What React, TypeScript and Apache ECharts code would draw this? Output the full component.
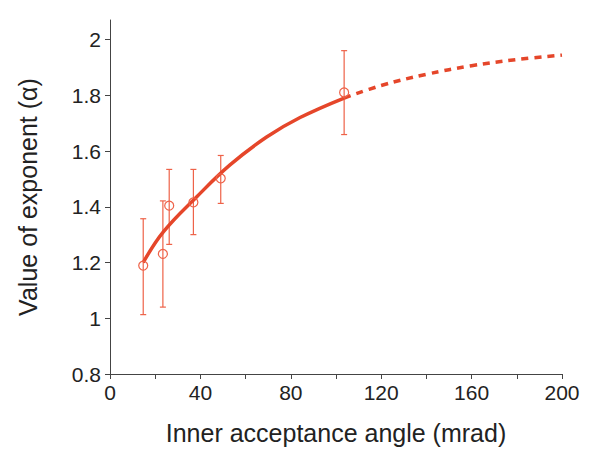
import React, { useEffect, useRef } from "react";
import * as echarts from "echarts";

const pointX = [14.7, 23.4, 26.2, 36.9, 49.0, 103.6];
const pointY = [1.189, 1.231, 1.404, 1.416, 1.502, 1.810];
const errLow = [1.013, 1.040, 1.265, 1.300, 1.412, 1.659];
const errHigh = [1.357, 1.421, 1.534, 1.534, 1.584, 1.960];

const solidX = [14.7, 23.6, 38.3, 53.1, 69.3, 84.1, 103.6];
const solidY = [1.2, 1.31, 1.435, 1.55, 1.65, 1.72, 1.79];
const dashX = [103.6, 120, 140, 160, 180, 200];
const dashY = [1.79, 1.835, 1.875, 1.906, 1.928, 1.944];

const xTicks = [0, 20, 40, 60, 80, 100, 120, 140, 160, 180, 200];
const xLabels = [0, 40, 80, 120, 160, 200];
const yTicks = [0.8, 1.0, 1.2, 1.4, 1.6, 1.8, 2.0];

const LINE = "#e5462a";
const ERR = "#ee6248";
const FONT = "Liberation Sans, Arial, sans-serif";

export default function App() {
  const ref = useRef<HTMLDivElement>(null);
  useEffect(() => {
    if (!ref.current) return;
    document.body.style.margin = "0";
    const chart = echarts.init(ref.current, null, { renderer: "svg" });
    const errData = pointX.map((x, i) => [x, errLow[i], errHigh[i]]);
    chart.setOption({
      animation: false,
      backgroundColor: "#ffffff",
      grid: { left: 110, right: 28, top: 20, bottom: 71 },
      xAxis: {
        type: "value",
        min: 0,
        max: 200,
        interval: 20,
        name: "Inner acceptance angle (mrad)",
        nameLocation: "middle",
        nameGap: 46,
        nameTextStyle: { fontFamily: FONT, fontSize: 25, color: "#222" },
        axisLine: { show: true, lineStyle: { color: "#444", width: 1 } },
        axisTick: { show: true, length: 5, lineStyle: { color: "#444" }, customValues: xTicks },
        axisLabel: {
          customValues: xLabels,
          fontFamily: FONT,
          fontSize: 21,
          color: "#222",
          margin: 8,
        },
        splitLine: { show: false },
      },
      yAxis: {
        type: "value",
        min: 0.8,
        max: 2.07,
        name: "Value of exponent (\u03b1)",
        nameLocation: "middle",
        nameGap: 70,
        nameTextStyle: { fontFamily: FONT, fontSize: 25, color: "#222" },
        axisLine: { show: true, lineStyle: { color: "#444", width: 1 } },
        axisTick: { show: true, length: 5, lineStyle: { color: "#444" }, customValues: yTicks },
        axisLabel: {
          customValues: yTicks,
          formatter: (v: number) => String(Math.round(v * 10) / 10),
          fontFamily: FONT,
          fontSize: 21,
          color: "#222",
          margin: 9,
        },
        splitLine: { show: false },
      },
      series: [
        {
          type: "line",
          data: solidX.map((x, i) => [x, solidY[i]]),
          smooth: 0.4,
          showSymbol: false,
          lineStyle: { color: LINE, width: 3.5 },
          z: 3,
        },
        {
          type: "line",
          data: dashX.map((x, i) => [x, dashY[i]]),
          smooth: 0.4,
          showSymbol: false,
          lineStyle: { color: LINE, width: 3.5, type: [7, 6] },
          z: 3,
        },
        {
          type: "custom",
          data: errData,
          renderItem: (params: any, api: any) => {
            const x = api.value(0);
            const lo = api.coord([x, api.value(1)]);
            const hi = api.coord([x, api.value(2)]);
            const w = 3;
            const style = { stroke: ERR, lineWidth: 1.2 };
            return {
              type: "group",
              children: [
                { type: "line", shape: { x1: lo[0], y1: lo[1], x2: hi[0], y2: hi[1] }, style },
                { type: "line", shape: { x1: lo[0] - w, y1: lo[1], x2: lo[0] + w, y2: lo[1] }, style },
                { type: "line", shape: { x1: hi[0] - w, y1: hi[1], x2: hi[0] + w, y2: hi[1] }, style },
              ],
            };
          },
          z: 2,
        },
        {
          type: "scatter",
          data: pointX.map((x, i) => [x, pointY[i]]),
          symbol: "circle",
          symbolSize: 9,
          itemStyle: { color: "rgba(255,255,255,0)", borderColor: ERR, borderWidth: 1.2, opacity: 1 },
          z: 4,
        },
      ],
    });
    return () => chart.dispose();
  }, []);
  return <div ref={ref} style={{ width: 590, height: 450 }} />;
}
